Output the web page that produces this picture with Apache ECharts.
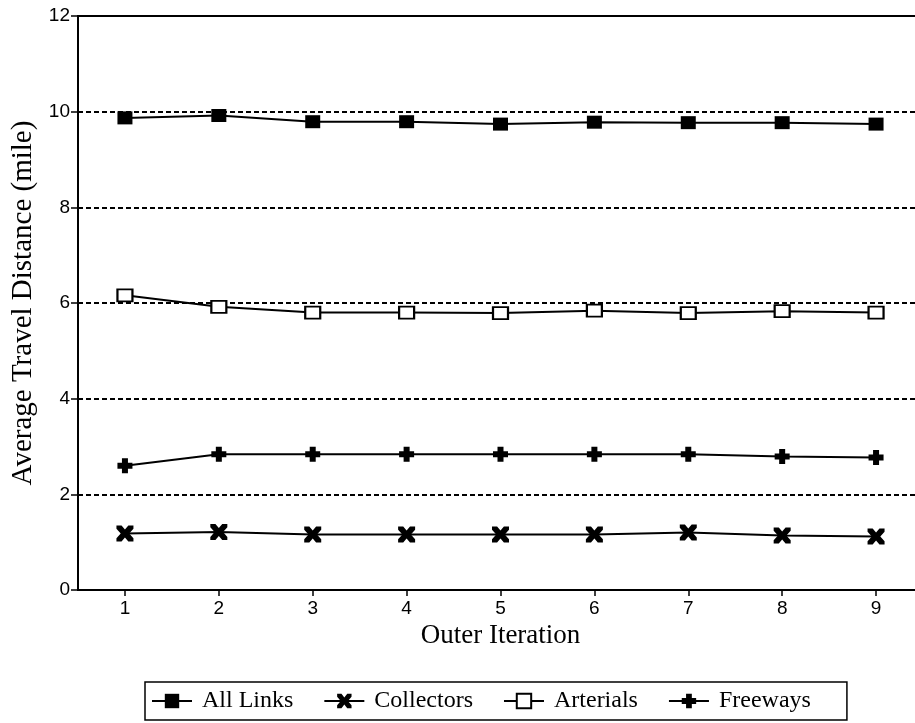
<!DOCTYPE html>
<html>
<head>
<meta charset="utf-8">
<script src="https://cdn.jsdelivr.net/npm/echarts@6/dist/echarts.min.js"></script>
<style>
  html, body { margin: 0; padding: 0; background: #fff; }
  #chart { width: 915px; height: 723px; }
</style>
</head>
<body>
<div id="chart"></div>
<script>
// Outer iterations on the horizontal axis
const iterations = ['1', '2', '3', '4', '5', '6', '7', '8', '9'];

// Average travel distance (mile) per link class
const allLinks   = [9.87, 9.92, 9.79, 9.79, 9.74, 9.78, 9.77, 9.77, 9.74];
const collectors = [1.18, 1.21, 1.16, 1.16, 1.16, 1.16, 1.20, 1.14, 1.12];
const arterials  = [6.16, 5.92, 5.80, 5.80, 5.79, 5.84, 5.79, 5.83, 5.80];
const freeways   = [2.60, 2.84, 2.84, 2.84, 2.84, 2.84, 2.84, 2.79, 2.77];

// Marker shapes: heavy X for collectors, heavy plus for freeways
const xMark = 'path://M0,0 L6,0 L10,5 L14,0 L20,0 L20,4 L15,10 L20,16 L20,20 L14,20 L10,15 L6,20 L0,20 L0,16 L5,10 L0,4 Z';
const plusMark = 'path://M6,0 L14,0 L14,6 L20,6 L20,14 L14,14 L14,20 L6,20 L6,14 L0,14 L0,6 L6,6 Z';

const sans = '"Liberation Sans", Arial, Helvetica, sans-serif';
const serif = '"Liberation Serif", "Times New Roman", serif';

function lineSeries(name, data, symbol, size, itemStyle) {
  return {
    name: name,
    type: 'line',
    data: data,
    symbol: symbol,
    symbolSize: size,
    showAllSymbol: true,
    lineStyle: { color: '#000', width: 2 },
    itemStyle: itemStyle,
    z: 3
  };
}

const chart = echarts.init(document.getElementById('chart'), null, { renderer: 'canvas' });

chart.setOption({
  animation: false,
  backgroundColor: '#fff',
  grid: {
    left: 78, top: 16, width: 845, height: 574,
    containLabel: false,
    outerBoundsMode: 'none',
    show: true, borderColor: '#000', borderWidth: 2, backgroundColor: 'transparent'
  },
  xAxis: {
    type: 'category',
    data: iterations,
    boundaryGap: true,
    name: 'Outer Iteration',
    nameLocation: 'middle',
    nameGap: 31,
    nameTextStyle: { fontFamily: serif, fontSize: 27, color: '#000' },
    axisLine: { show: true, lineStyle: { color: '#000', width: 2 } },
    axisTick: { show: true, alignWithLabel: true, length: 6, lineStyle: { color: '#000', width: 1.5 } },
    axisLabel: { fontFamily: sans, fontSize: 19, color: '#000', margin: 9 },
    splitLine: { show: false }
  },
  yAxis: {
    type: 'value',
    min: 0, max: 12, interval: 2,
    name: 'Average Travel Distance (mile)',
    nameLocation: 'middle',
    nameGap: 40,
    nameTextStyle: { fontFamily: serif, fontSize: 29, color: '#000' },
    axisLine: { show: true, lineStyle: { color: '#000', width: 2 } },
    axisTick: { show: true, length: 7, lineStyle: { color: '#000', width: 1.5 } },
    axisLabel: { fontFamily: sans, fontSize: 19, color: '#000', margin: 8 },
    splitLine: { show: true, lineStyle: { color: '#000', width: 2, type: [5, 3] } }
  },
  legend: {
    left: 145, top: 682,
    padding: [7, 36, 7, 6],
    itemGap: 30,
    itemWidth: 40,
    itemHeight: 18,
    borderColor: '#000',
    borderWidth: 1.5,
    textStyle: { fontFamily: serif, fontSize: 24, color: '#000', padding: [0, 0, 0, 5] },
    data: ['All Links', 'Collectors', 'Arterials', 'Freeways']
  },
  series: [
    lineSeries('All Links', allLinks, 'rect', [15, 13], { color: '#000' }),
    lineSeries('Collectors', collectors, xMark, [17, 16], { color: '#000' }),
    lineSeries('Arterials', arterials, 'rect', [15, 12], { color: '#fff', borderColor: '#000', borderWidth: 2 }),
    lineSeries('Freeways', freeways, plusMark, [15, 15], { color: '#000' })
  ]
});
</script>
</body>
</html>
